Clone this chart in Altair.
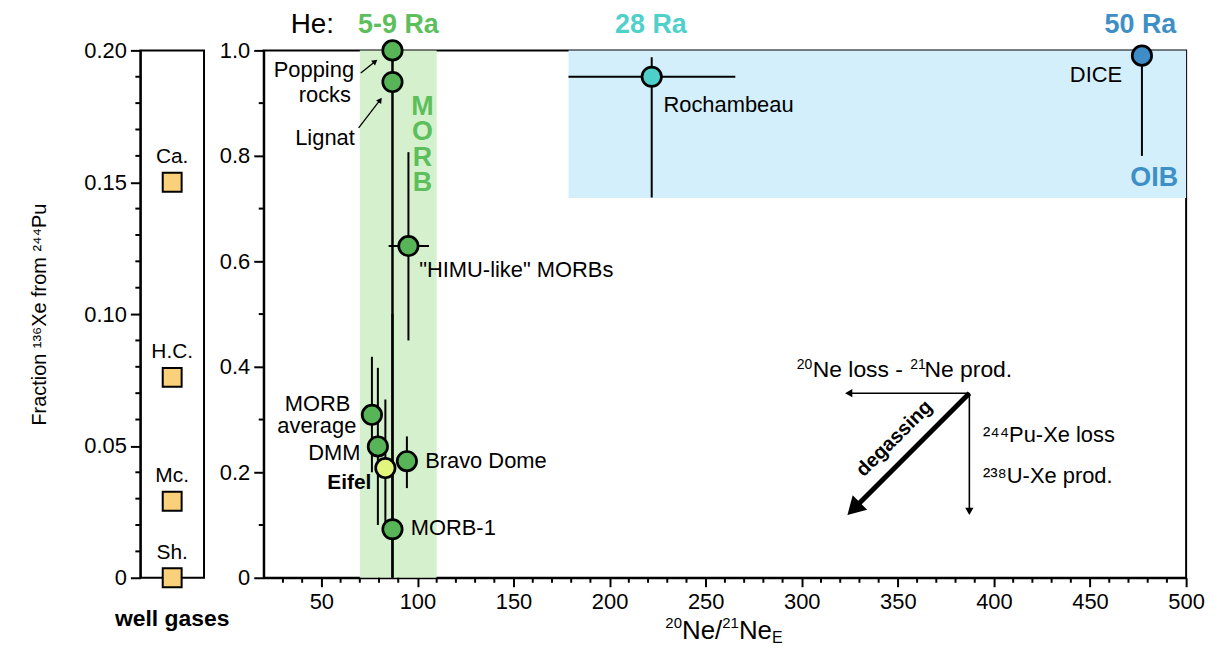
import altair as alt
import pandas as pd

FONT = "Liberation Sans"

# ---------------- data ----------------
# well gases (left panel)
well_gas = ["Ca.", "H.C.", "Mc.", "Sh."]
well_gas_frac = [0.150, 0.076, 0.029, 0.0]

# samples (main panel)
sample = ["Popping rocks", "Lignat", "HIMU-like MORBs", "MORB average", "DMM",
          "Eifel", "Bravo Dome", "MORB-1", "Rochambeau", "DICE"]
ne20_ne21 = [87.0, 87.0, 95.3, 76.3, 79.4, 83.3, 94.5, 87.0, 221.9, 477.0]
xe_frac = [1.000, 0.940, 0.629, 0.309, 0.249, 0.208, 0.221, 0.092, 0.950, 0.990]
xe_lo = [0.0, 0.0, 0.450, 0.200, 0.100, 0.100, 0.170, 0.0, 0.721, 0.800]
xe_hi = [1.0, 1.0, 0.807, 0.419, 0.398, 0.338, 0.268, 0.500, 0.987, 0.990]
ne_lo = [None, None, 85.0, None, None, None, None, None, 178.6, None]
ne_hi = [None, None, 106.0, None, None, None, None, None, 265.4, None]
sample_fill = ["#57b557", "#57b557", "#57b557", "#57b557", "#57b557",
               "#e2f57c", "#57b557", "#57b557", "#4fcfc9", "#3f8dc6"]

# shaded fields
band_name = ["MORB", "OIB"]
band_x0 = [70.0, 178.6]
band_x1 = [110.0, 500.0]
band_y0 = [0.0, 0.72]
band_y1 = [1.0, 1.0]
band_fill = ["#d5f0cd", "#d2effb"]

# tick positions
x_major = list(range(50, 501, 50))
x_minor = [v for v in range(30, 500, 10) if v % 50 != 0]
y_major = [0.0, 0.2, 0.4, 0.6, 0.8, 1.0]
y_minor = [0.1, 0.3, 0.5, 0.7, 0.9]
wg_major = [0.0, 0.05, 0.10, 0.15, 0.20]
wg_minor = [round(i * 0.01, 2) for i in range(1, 20) if i % 5 != 0]

# ---------------- helpers ----------------
GREEN_T = "#5cbf5c"
CYAN_T = "#4fd0cb"
BLUE_T = "#3f8fc7"

x_scale = alt.Scale(domain=[20, 500], nice=False, zero=False)
y_scale = alt.Scale(domain=[0, 1], nice=False, zero=False)

x_axis = alt.Axis(values=x_major, tickSize=9, labelPadding=5, labelOverlap=False,
                  labelFlush=False, title=None, format="d")
y_axis = alt.Axis(values=y_major, tickSize=10, labelPadding=4, labelOverlap=False,
                  labelFlush=False, title=None,
                  labelExpr="datum.value == 0 ? '0' : format(datum.value, '.1f')")


def txt_layer(texts, xs, ys, **kw):
    df = pd.DataFrame({"t": texts, "ne": xs, "xe": ys})
    base = dict(font=FONT, fontSize=21, color="black", baseline="middle", align="left")
    base.update(kw)
    return alt.Chart(df).mark_text(**base).encode(x="ne:Q", y="xe:Q", text="t:N")


def line_layer(x0, y0, x1, y1, width):
    df = pd.DataFrame({"ne": x0, "xe": y0, "ne2": x1, "xe2": y1})
    return alt.Chart(df).mark_rule(color="black", strokeWidth=width).encode(
        x="ne:Q", y="xe:Q", x2="ne2:Q", y2="xe2:Q")


def head_layer(xs, ys, angles, size):
    df = pd.DataFrame({"ne": xs, "xe": ys, "ang": angles})
    return alt.Chart(df).mark_point(shape="triangle-up", filled=True, color="black",
                                    opacity=1, size=size).encode(
        x="ne:Q", y="xe:Q", angle=alt.Angle("ang:Q", scale=None))


# ---------------- left panel ----------------
wg = pd.DataFrame({"name": well_gas, "frac": well_gas_frac, "pos": [0.5] * len(well_gas)})
lx = alt.X("pos:Q", scale=alt.Scale(domain=[0, 1], nice=False), axis=None)
ly = alt.Y("frac:Q", scale=alt.Scale(domain=[0, 0.2], nice=False, zero=False),
           axis=alt.Axis(
               values=wg_major, tickSize=10, labelPadding=4, labelOverlap=False,
               labelFlush=False,
               labelExpr="datum.value == 0 ? '0' : format(datum.value, '.2f')",
               title="Fraction ¹³⁶Xe from ²⁴⁴Pu", titleFontSize=20, titleFontWeight="normal",
               titlePadding=34))

squares = alt.Chart(wg).mark_square(size=361, fill="#fbd07a", stroke="black",
                                    strokeWidth=2, opacity=1).encode(x=lx, y=ly)
sq_labels = alt.Chart(wg).mark_text(font=FONT, fontSize=21, dy=-25, color="black").encode(
    x="pos:Q", y="frac:Q", text="name:N")
wg_title = alt.Chart(pd.DataFrame({"pos": [0.5], "frac": [-0.0155], "t": ["well gases"]})).mark_text(
    font=FONT, fontSize=23, fontWeight="bold", color="black", baseline="middle").encode(
    x="pos:Q", y="frac:Q", text="t:N")
wg_ticks = alt.Chart(pd.DataFrame({"frac": wg_minor, "pos": [0.0] * len(wg_minor)})).mark_tick(
    orient="horizontal", size=5, thickness=2, color="black", xOffset=-2.5, opacity=1).encode(
    x="pos:Q", y="frac:Q")

left = alt.layer(squares, wg_ticks, sq_labels, wg_title).properties(width=64, height=530)

# ---------------- main panel ----------------
bands = pd.DataFrame({"name": band_name, "ne": band_x0, "ne2": band_x1,
                      "xe": band_y0, "xe2": band_y1, "fill": band_fill})
band_layer = alt.Chart(bands).mark_rect().encode(
    x=alt.X("ne:Q", scale=x_scale, axis=x_axis),
    x2="ne2:Q",
    y=alt.Y("xe:Q", scale=y_scale, axis=y_axis),
    y2="xe2:Q",
    color=alt.Color("fill:N", scale=None),
)

xt = alt.Chart(pd.DataFrame({"ne": x_minor, "xe": [0.0] * len(x_minor)})).mark_tick(
    orient="vertical", size=5, thickness=2, color="black", yOffset=2.5, opacity=1).encode(
    x="ne:Q", y="xe:Q")
yt = alt.Chart(pd.DataFrame({"xe": y_minor, "ne": [20.0] * len(y_minor)})).mark_tick(
    orient="horizontal", size=5, thickness=2, color="black", xOffset=-2.5, opacity=1).encode(
    x="ne:Q", y="xe:Q")

samples = pd.DataFrame({"name": sample, "ne": ne20_ne21, "xe": xe_frac, "lo": xe_lo,
                        "hi": xe_hi, "nlo": ne_lo, "nhi": ne_hi, "fill": sample_fill})
verr = alt.Chart(samples).mark_rule(color="black", strokeWidth=2).encode(
    x="ne:Q", y="lo:Q", y2="hi:Q")
herr = alt.Chart(samples).transform_filter("isValid(datum.nlo)").mark_rule(
    color="black", strokeWidth=2).encode(x="nlo:Q", x2="nhi:Q", y="xe:Q")
pts = alt.Chart(samples).mark_circle(size=380, stroke="black", strokeWidth=2.7, opacity=1).encode(
    x="ne:Q", y="xe:Q", color=alt.Color("fill:N", scale=None))

# degassing vectors
arrows_thin = line_layer([387.2, 387.2], [0.350, 0.350], [324.4, 387.2], [0.350, 0.126], 1.6)
arrow_thick = line_layer([387.2], [0.350], [329.0], [0.138], 5)
heads_thin = head_layer([324.4, 387.2], [0.350, 0.126], [270, 180], 70)
head_thick = head_layer([327.0], [0.131], [225], 420)
# leader arrows
leaders = line_layer([70.5, 69.4], [0.957, 0.853], [78.0, 80.6], [0.979, 0.906], 1.3)
leader_heads = head_layer([78.0, 80.6], [0.979, 0.906], [51, 35], 40)

labels_left = txt_layer(
    ['"HIMU-like" MORBs', "Bravo Dome", "MORB-1", "Rochambeau",
     "²⁴⁴Pu-Xe loss", "²³⁸U-Xe prod."],
    [100.9, 104.0, 96.5, 228.0, 394.3, 394.3],
    [0.583, 0.222, 0.094, 0.897, 0.270, 0.192], fontSize=22)
labels_right = txt_layer(
    ["Popping", "rocks", "Lignat", "MORB", "average", "DMM", "DICE"],
    [67.0, 65.4, 67.4, 65.1, 68.2, 70.3, 466.7],
    [0.962, 0.915, 0.834, 0.329, 0.288, 0.236, 0.953], align="right", fontSize=22)
eifel = txt_layer(["Eifel"], [76.0], [0.180], align="right", fontWeight="bold", fontSize=21)
degas = txt_layer(["degassing"], [348.2], [0.264], align="center", fontWeight="bold",
                  fontSize=20, angle=315)

# "20Ne loss - 21Ne prod." with raised mass numbers
NL_X, NL_Y = 297.4, 0.381
ne_loss = [
    txt_layer(["20"], [NL_X], [NL_Y], baseline="alphabetic", fontSize=14, dy=-8),
    txt_layer(["Ne loss -"], [NL_X], [NL_Y], baseline="alphabetic", fontSize=23, dx=16),
    txt_layer(["21"], [NL_X], [NL_Y], baseline="alphabetic", fontSize=14, dx=114, dy=-8),
    txt_layer(["Ne prod."], [NL_X], [NL_Y], baseline="alphabetic", fontSize=23, dx=128.3),
]

he = txt_layer(["He:"], [34.0], [1.048], fontSize=28)
ra59 = txt_layer(["5-9 Ra"], [90.1], [1.048], align="center", fontWeight="bold",
                 fontSize=27, color=GREEN_T)
ra28 = txt_layer(["28 Ra"], [221.5], [1.048], align="center", fontWeight="bold",
                 fontSize=27, color=CYAN_T)
ra50 = txt_layer(["50 Ra"], [476.2], [1.048], align="center", fontWeight="bold",
                 fontSize=27, color=BLUE_T)
morb = txt_layer(["M\nO\nR\nB"], [102.6], [0.893], align="center", fontWeight="bold",
                 fontSize=27, color=GREEN_T, lineBreak="\n", lineHeight=25.7)
oib = txt_layer(["OIB"], [483.4], [0.758], align="center", fontWeight="bold",
                fontSize=27, color=BLUE_T)

# x-axis title 20Ne/21Ne_E
XT_X, XT_Y = 229.0, -0.1165
xtitle = [
    txt_layer(["20"], [XT_X], [XT_Y], baseline="alphabetic", fontSize=15, dy=-11),
    txt_layer(["Ne/"], [XT_X], [XT_Y], baseline="alphabetic", fontSize=26, dx=16.7),
    txt_layer(["21"], [XT_X], [XT_Y], baseline="alphabetic", fontSize=15, dx=57.2, dy=-11),
    txt_layer(["Ne"], [XT_X], [XT_Y], baseline="alphabetic", fontSize=26, dx=73.9),
    txt_layer(["E"], [XT_X], [XT_Y], baseline="alphabetic", fontSize=16, dx=107.3, dy=4),
]

main = alt.layer(
    band_layer, xt, yt, verr, herr, arrows_thin, arrow_thick, heads_thin, head_thick,
    leaders, leader_heads, pts,
    labels_left, labels_right, eifel, degas, *ne_loss,
    he, ra59, ra28, ra50, morb, oib, *xtitle,
).properties(width=927, height=530)

chart = alt.hconcat(left, main, spacing=60, bounds="flush").properties(
    padding={"left": 21, "top": 0, "right": 5, "bottom": 0}
).configure_view(
    stroke="black", strokeWidth=2
).configure_axis(
    domainColor="black", domainWidth=2, tickColor="black", tickWidth=2,
    labelFont=FONT, labelFontSize=22, labelColor="black",
    titleFont=FONT, titleColor="black", grid=False, zindex=1,
)

chart.save("out.html", embed_options={"renderer": "svg", "actions": False})
